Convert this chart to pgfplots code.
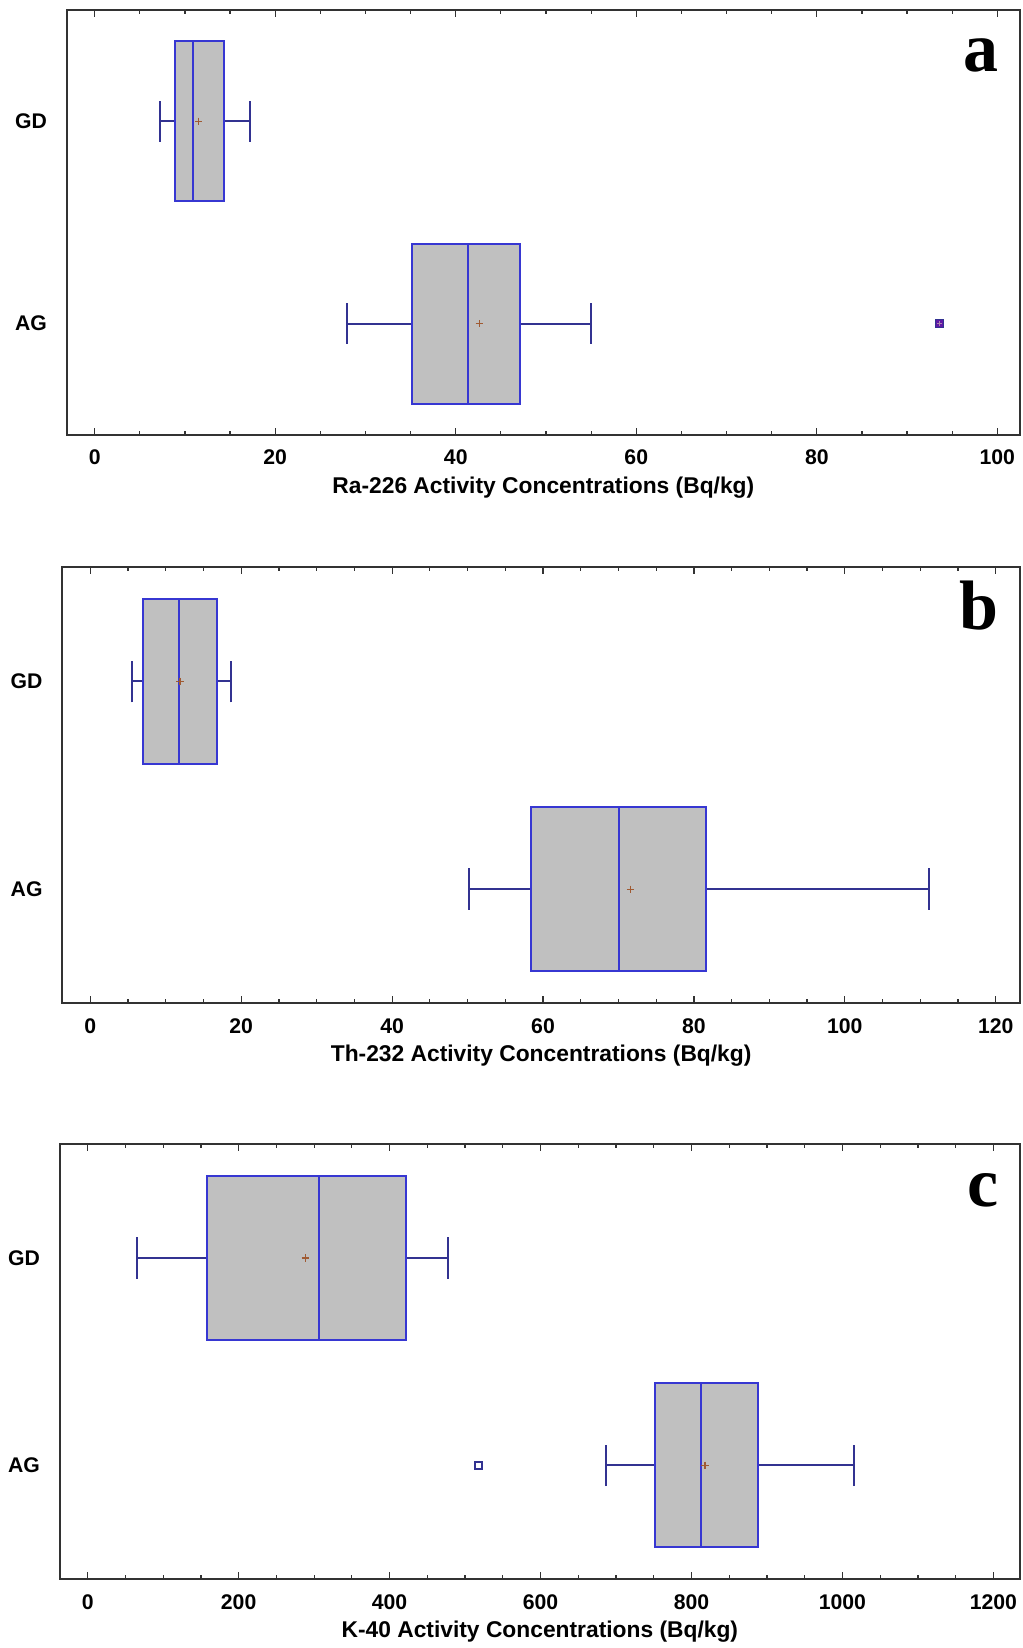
\documentclass[border=0pt]{standalone}
\usepackage{fontspec}
\setmainfont{Liberation Sans}
\newfontfamily\serifbold{Liberation Serif}
\newfontfamily\sansbold{Liberation Sans Bold}
\usepackage{pgfplots}
\pgfplotsset{compat=1.18}

\definecolor{boxfill}{RGB}{192,192,192}
\definecolor{boxblue}{RGB}{55,55,210}
\definecolor{whiskblue}{RGB}{50,50,145}
\definecolor{meanbrown}{RGB}{160,90,50}
\definecolor{axisgray}{RGB}{50,50,50}

\pgfplotsset{
  panel/.style={
    scale only axis,
    anchor=north west,
    ymin=-0.55, ymax=1.55,
    ytick={0,1}, yticklabels={AG,GD},
    ytick style={draw=none},
    minor x tick num=3,
    major tick length=3.5pt, minor tick length=2pt,
    tick align=inside,
    every tick/.style={axisgray, line width=0.6pt},
    axis line style={axisgray, line width=1pt},
    xticklabel style={font=\sansbold\fontsize{10.6}{12}\selectfont, inner sep=0pt, anchor=north, yshift=-7.3pt},
    yticklabel style={font=\sansbold\fontsize{10.6}{12}\selectfont, inner sep=0pt, anchor=east, xshift=-9.7pt},
    xlabel style={at={(rel axis cs:0.5,0)}, anchor=base, inner sep=0pt, yshift=-29pt, font=\sansbold\fontsize{11.4}{13}\selectfont},
    clip=false,
  },
  whisk/.style={whiskblue, line width=1pt, no marks},
  boxst/.style={draw=boxblue, fill=boxfill, line width=1pt, no marks},
  medst/.style={boxblue, line width=1pt, no marks},
  meanst/.style={only marks, mark=+, mark size=1.8pt, meanbrown, mark options={line width=0.6pt}},
}

% #1 lower whisker, #2 q1, #3 median, #4 q3, #5 upper whisker, #6 mean
\newcommand{\boxGD}[6]{%
  \addplot[whisk] coordinates {(#1,1) (#2,1)};
  \addplot[whisk] coordinates {(#4,1) (#5,1)};
  \addplot[whisk] coordinates {(#1,0.9) (#1,1.1)};
  \addplot[whisk] coordinates {(#5,0.9) (#5,1.1)};
  \addplot[boxst] coordinates {(#2,0.604) (#4,0.604) (#4,1.396) (#2,1.396)} -- cycle;
  \addplot[medst] coordinates {(#3,0.604) (#3,1.396)};
  \addplot[meanst] coordinates {(#6,1)};
}
\newcommand{\boxAG}[6]{%
  \addplot[whisk] coordinates {(#1,0) (#2,0)};
  \addplot[whisk] coordinates {(#4,0) (#5,0)};
  \addplot[whisk] coordinates {(#1,-0.1) (#1,0.1)};
  \addplot[whisk] coordinates {(#5,-0.1) (#5,0.1)};
  \addplot[boxst] coordinates {(#2,-0.396) (#4,-0.396) (#4,0.396) (#2,0.396)} -- cycle;
  \addplot[medst] coordinates {(#3,-0.396) (#3,0.396)};
  \addplot[meanst] coordinates {(#6,0)};
}
\newcommand{\panellabel}[1]{%
  \node[anchor=base east, inner sep=0pt, font=\serifbold\bfseries\fontsize{35}{36}\selectfont]
    at (rel axis cs:1,1) [xshift=-10.5pt, yshift=-31pt] {#1};
}

\begin{document}
\begin{tikzpicture}
\useasboundingbox (0,0) rectangle (511pt,-824pt);

% panel a
\begin{axis}[panel, at={(33.35pt,-5pt)}, width=476.65pt, height=212.5pt,
  xmin=-3.10, xmax=102.51,
  xtick={0,20,40,60,80,100}, xticklabels={0,20,40,60,80,100},
  xlabel={Ra-226 Activity Concentrations (Bq/kg)}]
  \boxGD{7.23}{8.86}{10.85}{14.29}{17.2}{11.52}
  \boxAG{28.0}{35.1}{41.4}{47.1}{54.95}{42.6}
  \addplot[only marks, mark=square*, mark size=2pt, draw=whiskblue, fill=violet!55!boxblue, mark options={line width=0.6pt}] coordinates {(93.6,0)};
  \addplot[only marks, mark=+, mark size=1.3pt, violet!30!boxfill, mark options={line width=0.4pt}] coordinates {(93.6,0)};
  \panellabel{a}
\end{axis}

% panel b
\begin{axis}[panel, at={(31.15pt,-283.65pt)}, width=478.85pt, height=218pt,
  xmin=-3.71, xmax=123.22,
  xtick={0,20,40,60,80,100,120}, xticklabels={0,20,40,60,80,100,120},
  xlabel={Th-232 Activity Concentrations (Bq/kg)}]
  \boxGD{5.57}{7.02}{11.8}{16.8}{18.65}{11.9}
  \boxAG{50.2}{58.4}{70.1}{81.6}{111.1}{71.6}
  \panellabel{b}
\end{axis}

% panel c
\begin{axis}[panel, at={(29.85pt,-572pt)}, width=480.15pt, height=217.65pt,
  xmin=-37.1, xmax=1235.3,
  xtick={0,200,400,600,800,1000,1200}, xticklabels={0,200,400,600,800,1000,1200},
  xlabel={K-40 Activity Concentrations (Bq/kg)}]
  \boxGD{64.9}{157.7}{306.9}{421.8}{477.0}{288.3}
  \boxAG{686.8}{751.3}{812.6}{888.6}{1015.8}{817.9}
  \addplot[only marks, mark=square, mark size=1.8pt, whiskblue, mark options={line width=0.8pt}] coordinates {(517.6,0)};
  \panellabel{c}
\end{axis}
\end{tikzpicture}
\end{document}
